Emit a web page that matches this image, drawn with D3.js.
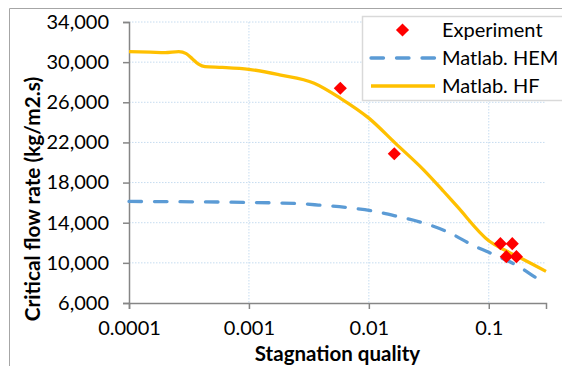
<!DOCTYPE html>
<html>
<head>
<meta charset="utf-8">
<script src="https://cdn.jsdelivr.net/npm/d3@7"></script>
<style>
  body { margin: 0; background: #fff; }
  svg { display: block; font-family: Lato, "Open Sans", sans-serif; }
</style>
</head>
<body>
<div id="chart"></div>
<script>
// Matlab HF model
var hfQuality = [0.0001, 0.00015, 0.0002, 0.00026, 0.0003, 0.00034, 0.00038, 0.00043, 0.0006, 0.001, 0.0018, 0.0035, 0.0058, 0.01, 0.0166, 0.0286, 0.0421, 0.0545, 0.1, 0.142, 0.2, 0.3];
var hfFlow = [31050, 31000, 30950, 31050, 30850, 30300, 29800, 29550, 29480, 29290, 28730, 27900, 26400, 24420, 21930, 19270, 17110, 15620, 12200, 11150, 10260, 9150];

// Matlab HEM model
var hemQuality = [0.0001, 0.001, 0.0027, 0.0038, 0.0064, 0.0105, 0.0173, 0.028, 0.046, 0.077, 0.1, 0.177, 0.264, 0.3];
var hemFlow = [16120, 16020, 15890, 15760, 15520, 15190, 14630, 14000, 13050, 11640, 11050, 9650, 8330, 8000];

// Experiment points
var expQuality = [0.00578, 0.0163, 0.125, 0.157, 0.140, 0.170];
var expFlow = [27400, 20870, 11910, 11910, 10620, 10620];

var xTicks = [0.0001, 0.001, 0.01, 0.1];
var xTickLabels = ["0.0001", "0.001", "0.01", "0.1"];
var yTicks = [6000, 10000, 14000, 18000, 22000, 26000, 30000, 34000];

var legendLabels = ["Experiment", "Matlab. HEM", "Matlab. HF"];

var width = 562, height = 366;
var margin = {top: 22, right: 16, bottom: 63, left: 129};
var w = width - margin.left - margin.right;
var h = height - margin.top - margin.bottom;

var hfColor = "#FFC000", hemColor = "#5B9BD5", expColor = "#FF0000";

var svg = d3.select("#chart")
  .append("svg")
  .attr("width", width)
  .attr("height", height);

// outer chart frame (only top and left edges are visible)
svg.append("path")
  .attr("d", "M9.5," + (height + 2) + "V8.5H" + (width + 2))
  .attr("fill", "none")
  .attr("stroke", "#a6a6a6")
  .attr("stroke-width", 1);

var g = svg.append("g")
  .attr("transform", "translate(" + margin.left + "," + margin.top + ")");

var x = d3.scaleLog().domain([0.0001, 0.3]).range([0, w]);
var y = d3.scaleLinear().domain([6000, 34000]).range([h, 0]);

// gridlines
g.selectAll(".hgrid")
  .data(yTicks.slice(1))
  .enter()
  .append("line")
  .attr("x1", 0).attr("x2", w)
  .attr("y1", function(d) { return y(d); })
  .attr("y2", function(d) { return y(d); })
  .attr("stroke", "#c6dcf0")
  .attr("stroke-dasharray", "1.5,1.5");

g.selectAll(".vgrid")
  .data(xTicks.slice(1))
  .enter()
  .append("line")
  .attr("y1", 0).attr("y2", h)
  .attr("x1", function(d) { return x(d); })
  .attr("x2", function(d) { return x(d); })
  .attr("stroke", "#c6dcf0")
  .attr("stroke-dasharray", "1.5,1.5");

// axes
var yAxis = g.append("g")
  .call(d3.axisLeft(y).tickValues(yTicks).tickSize(6).tickPadding(14)
    .tickFormat(d3.format(",")));

var xAxis = g.append("g")
  .attr("transform", "translate(0," + h + ")")
  .call(d3.axisBottom(x).tickValues(xTicks).tickSize(6).tickPadding(12)
    .tickFormat(function(d, i) { return xTickLabels[i]; }));

[yAxis, xAxis].forEach(function(a) {
  a.select(".domain").attr("stroke", "#868686").attr("stroke-width", 1.5);
  a.selectAll(".tick line").attr("stroke", "#868686").attr("stroke-width", 1.5);
  a.selectAll(".tick text")
    .attr("fill", "#000")
    .attr("font-size", "20px")
    .attr("font-family", "Lato, sans-serif");
});

// axis titles
svg.append("text")
  .attr("transform", "translate(40,199) rotate(-90)")
  .attr("text-anchor", "middle")
  .attr("font-weight", "bold")
  .attr("font-size", "20.8px")
  .text("Critical flow rate (kg/m2.s)");

svg.append("text")
  .attr("x", margin.left + w / 2)
  .attr("y", 361)
  .attr("text-anchor", "middle")
  .attr("font-weight", "bold")
  .attr("font-size", "20.5px")
  .text("Stagnation quality");

// lines
var line = d3.line()
  .x(function(d) { return x(d[0]); })
  .y(function(d) { return y(d[1]); })
  .curve(d3.curveMonotoneX);

g.append("path")
  .datum(d3.zip(hemQuality, hemFlow))
  .attr("d", line)
  .attr("fill", "none")
  .attr("stroke", hemColor)
  .attr("stroke-width", 3.3)
  .attr("stroke-linecap", "round")
  .attr("stroke-dasharray", "12.5,13");

g.append("path")
  .datum(d3.zip(hfQuality, hfFlow))
  .attr("d", line)
  .attr("fill", "none")
  .attr("stroke", hfColor)
  .attr("stroke-width", 3.3);

// experiment diamonds
var diamond = d3.symbol().type(d3.symbolDiamond2).size(110);
g.selectAll(".exp")
  .data(d3.zip(expQuality, expFlow))
  .enter()
  .append("path")
  .attr("d", diamond)
  .attr("transform", function(d) { return "translate(" + x(d[0]) + "," + y(d[1]) + ")"; })
  .attr("fill", expColor);

// legend
var legend = svg.append("g").attr("transform", "translate(362,16)");
legend.append("rect")
  .attr("x", 0.5).attr("y", 0.5)
  .attr("width", 220).attr("height", 84)
  .attr("fill", "#fff")
  .attr("stroke", "#d9d9d9")
  .attr("stroke-width", 1.5);

var rows = [14, 42, 70];
legend.append("path")
  .attr("d", diamond)
  .attr("transform", "translate(40.5," + rows[0] + ")")
  .attr("fill", expColor);
legend.append("line")
  .attr("x1", 9).attr("x2", 73)
  .attr("y1", rows[1]).attr("y2", rows[1])
  .attr("stroke", hemColor).attr("stroke-width", 3.3)
  .attr("stroke-linecap", "round")
  .attr("stroke-dasharray", "12.5,13");
legend.append("line")
  .attr("x1", 9).attr("x2", 73)
  .attr("y1", rows[2]).attr("y2", rows[2])
  .attr("stroke", hfColor).attr("stroke-width", 3.3);

legend.selectAll(".lbl")
  .data(legendLabels)
  .enter()
  .append("text")
  .attr("x", 80)
  .attr("y", function(d, i) { return rows[i]; })
  .attr("dy", "0.35em")
  .attr("font-size", "20px")
  .text(function(d) { return d; });
</script>
</body>
</html>
